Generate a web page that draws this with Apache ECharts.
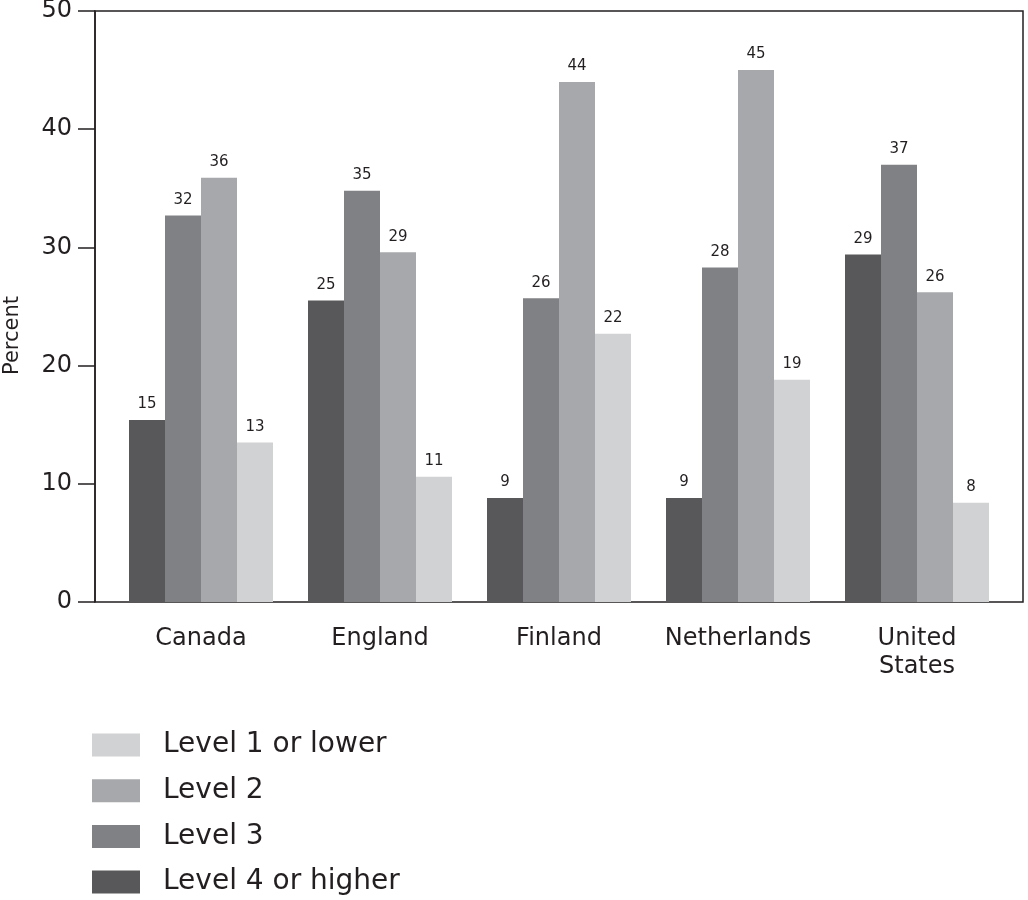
<!DOCTYPE html>
<html>
<head>
<meta charset="utf-8">
<script src="https://cdn.jsdelivr.net/npm/echarts@6/dist/echarts.min.js"></script>
<style>html,body{margin:0;padding:0;background:#fff;}#main{width:1028px;height:900px;}</style>
</head>
<body>
<div id="main"></div>
<script>
const countries = ['Canada', 'England', 'Finland', 'Netherlands', 'United\nStates'];
const seriesNames = ['Level 4 or higher', 'Level 3', 'Level 2', 'Level 1 or lower'];
const level4 = [15.4, 25.5, 8.8, 8.8, 29.4];
const level3 = [32.7, 34.8, 25.7, 28.3, 37.0];
const level2 = [35.9, 29.6, 44.0, 45.0, 26.2];
const level1 = [13.5, 10.6, 22.7, 18.8, 8.4];
const level4Labels = [15, 25, 9, 9, 29];
const level3Labels = [32, 35, 26, 28, 37];
const level2Labels = [36, 29, 44, 45, 26];
const level1Labels = [13, 11, 22, 19, 8];
const yTicks = [0, 10, 20, 30, 40, 50];

const colors = ['#58585a', '#808184', '#a7a8ab', '#d1d2d4'];
const values = [level4, level3, level2, level1];
const labels = [level4Labels, level3Labels, level2Labels, level1Labels];
const FONT = '"DejaVu Sans", sans-serif';
const INK = '#231f20';

const chart = echarts.init(document.getElementById('main'), null, {renderer: 'canvas'});
chart.setOption({
  animation: false,
  backgroundColor: '#fff',
  textStyle: {fontFamily: FONT, color: INK},
  grid: [
    {left: 95, top: 11, width: 928, height: 591, outerBoundsMode: 'none', containLabel: false,
     show: true, borderColor: INK, borderWidth: 1.5, backgroundColor: 'transparent'},
    {left: 111.5, top: 11, width: 895, height: 591, outerBoundsMode: 'none', containLabel: false}
  ],
  xAxis: [
    {gridIndex: 0, type: 'value', min: 0, max: 1, show: false},
    {gridIndex: 1, type: 'category', data: countries,
     axisLine: {show: false}, axisTick: {show: false},
     axisLabel: {interval: 0, fontSize: 24, color: INK, margin: 23, lineHeight: 28, fontFamily: FONT}}
  ],
  yAxis: [
    {gridIndex: 0, type: 'value', min: yTicks[0], max: yTicks[yTicks.length - 1], interval: 10,
     name: 'Percent', nameLocation: 'middle', nameRotate: 90, nameGap: 72,
     nameTextStyle: {fontSize: 21, color: INK, fontFamily: FONT, padding: [0, 58, 0, 0]},
     axisLine: {show: true, lineStyle: {color: INK, width: 1.5}},
     axisTick: {show: true, inside: false, length: 17, lineStyle: {color: INK, width: 1.5}},
     axisLabel: {fontSize: 24, color: INK, margin: 23, fontFamily: FONT},
     splitLine: {show: false}},
    {gridIndex: 1, type: 'value', min: 0, max: 50, show: false}
  ],
  legend: {
    orient: 'vertical', left: 92, top: 730, padding: 0, height: 180,
    itemWidth: 48, itemHeight: 23, itemGap: 15.7, icon: 'rect',
    data: seriesNames.slice().reverse(),
    textStyle: {fontSize: 28, lineHeight: 30, color: INK, fontFamily: FONT, padding: [0, 0, 0, 18]}
  },
  series: seriesNames.map((name, i) => ({
    name: name, type: 'bar', xAxisIndex: 1, yAxisIndex: 1,
    data: values[i], barWidth: 36, barGap: '0%',
    itemStyle: {color: colors[i]},
    label: {show: true, position: 'top', distance: 8, fontSize: 15, color: INK, fontFamily: FONT,
            formatter: p => String(labels[i][p.dataIndex])}
  }))
});
</script>
</body>
</html>
